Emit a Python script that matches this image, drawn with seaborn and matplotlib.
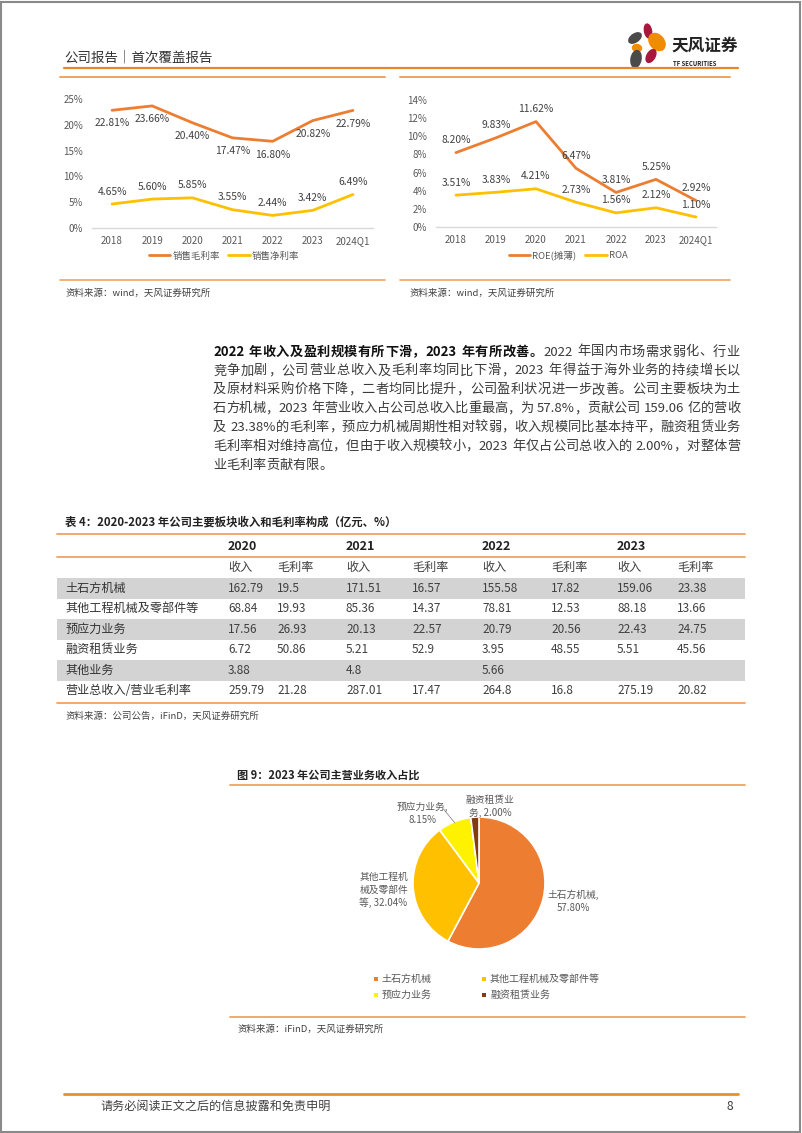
import re
import matplotlib
matplotlib.use("Agg")
import matplotlib.pyplot as plt
import matplotlib.patches as mpatches
from matplotlib.lines import Line2D
import numpy as np
import pandas as pd
import seaborn as sns

W, H = 802, 1133

# chart data
years = ["2018", "2019", "2020", "2021", "2022", "2023", "2024Q1"]
gross_margin = [22.81, 23.66, 20.40, 17.47, 16.80, 20.82, 22.79]
net_margin = [4.65, 5.60, 5.85, 3.55, 2.44, 3.42, 6.49]
roe = [8.20, 9.83, 11.62, 6.47, 3.81, 5.25, 2.92]
roa = [3.51, 3.83, 4.21, 2.73, 1.56, 2.12, 1.10]

# table data
tbl_years = ["2020", "2021", "2022", "2023"]
tbl_rows = ["土石方机械", "其他工程机械及零部件等", "预应力业务", "融资租赁业务", "其他业务", "营业总收入/营业毛利率"]
tbl_income = [["162.79", "171.51", "155.58", "159.06"],
              ["68.84", "85.36", "78.81", "88.18"],
              ["17.56", "20.13", "20.79", "22.43"],
              ["6.72", "5.21", "3.95", "5.51"],
              ["3.88", "4.8", "5.66", ""],
              ["259.79", "287.01", "264.8", "275.19"]]
tbl_margin = [["19.5", "16.57", "17.82", "23.38"],
              ["19.93", "14.37", "12.53", "13.66"],
              ["26.93", "22.57", "20.56", "24.75"],
              ["50.86", "52.9", "48.55", "45.56"],
              ["", "", "", ""],
              ["21.28", "17.47", "16.8", "20.82"]]

# pie data
pie_names = ["土石方机械", "其他工程机械及零部件等", "预应力业务", "融资租赁业务"]
pie_share = [57.80, 32.04, 8.15, 2.00]

ORANGE = "#ED7D31"
GOLD = "#FFC000"
YELLOW = "#FFF200"
BROWN = "#843C0C"
LINE_OR = "#F0A35E"
TXT = "#404040"

sns.set_theme(style="white")
plt.rcParams["font.family"] = ["Noto Sans CJK SC", "DejaVu Sans"]

fig = plt.figure(figsize=(W / 100, H / 100), dpi=100)
renderer = fig.canvas.get_renderer()


def fx(x):
    return x / W


def fy(y):
    return 1 - y / H


def txt(x, y, s, **kw):
    kw.setdefault("va", "center")
    kw.setdefault("color", TXT)
    return fig.text(fx(x), fy(y), s, **kw)


def hline(x0, x1, y, color=LINE_OR, lw=1.2):
    fig.add_artist(Line2D([fx(x0), fx(x1)], [fy(y), fy(y)], color=color, lw=lw,
                          transform=fig.transFigure))


def rect(x0, y0, x1, y1, color):
    fig.add_artist(mpatches.Rectangle((fx(x0), fy(y1)), (x1 - x0) / W, (y1 - y0) / H,
                                      color=color, lw=0, transform=fig.transFigure))


# page border
fig.add_artist(mpatches.Rectangle((0.001, 0.001), 0.997, 0.997, fill=False,
                                  ec="#8a8a8a", lw=1.5, transform=fig.transFigure))

# header
txt(64, 58, "公司报告｜首次覆盖报告", fontsize=9.7, color="#333333", ha="left")
hline(64, 738, 68, color="#E8872A", lw=1.6)
hline(60, 385, 77, lw=1.4)
hline(400, 730, 77, lw=1.4)

# logo
axl = fig.add_axes([fx(625), fy(72), 45 / W, 52 / H])
axl.set_xlim(625, 670)
axl.set_ylim(72, 20)
axl.axis("off")
for cx, cy, w, h, a, c in [(648, 31, 7, 14, -10, "#A8173C"),
                           (635, 38, 8, 14, 55, "#4A4A4A"),
                           (657, 42, 14, 19, -40, "#F08C00"),
                           (637, 48, 9, 7, 10, "#F08C00"),
                           (636, 59, 10, 17, 10, "#4A4A4A"),
                           (651, 56, 8, 14, 30, "#A8173C")]:
    axl.add_patch(mpatches.Ellipse((cx, cy), w, h, angle=a, color=c))
txt(671, 46, "天风证券", fontsize=12, weight="bold", color="#222222", ha="left")
txt(673, 63, "TF SECURITIES", fontsize=4.3, weight="bold", color="#222222", ha="left")


def line_chart(rect_px, s1, s2, names, ymax, ystep, below_first, legend_xy):
    x0, x1, ytop, ybot = rect_px
    ax = fig.add_axes([fx(x0), fy(ybot), (x1 - x0) / W, (ybot - ytop) / H])
    df = pd.DataFrame({"year": years * 2, "value": s1 + s2,
                       "series": [names[0]] * len(years) + [names[1]] * len(years)})
    sns.lineplot(data=df, x="year", y="value", hue="series", palette=[ORANGE, GOLD],
                 linewidth=2, legend=False, sort=False, ax=ax)
    ax.set_xlim(-0.5, len(years) - 0.5)
    ax.set_ylim(0, ymax)
    ax.set_yticks(np.arange(0, ymax + 0.1, ystep))
    ax.set_yticklabels([f"{int(v)}%" for v in np.arange(0, ymax + 0.1, ystep)])
    ax.set_xlabel("")
    ax.set_ylabel("")
    for sp in ["top", "right", "left"]:
        ax.spines[sp].set_visible(False)
    ax.spines["bottom"].set_color("#d9d9d9")
    ax.spines["bottom"].set_linewidth(1)
    ax.tick_params(axis="both", length=0, labelsize=7, colors="#595959")
    ax.tick_params(axis="y", pad=6.5)
    ax.tick_params(axis="x", pad=6)
    for i, v in enumerate(s1):
        off = -9.5 if below_first else 9
        ax.annotate(f"{v:.2f}%", (i, v), xytext=(0, off), textcoords="offset points",
                    ha="center", va="center", fontsize=7.4, color=TXT)
    for i, v in enumerate(s2):
        ax.annotate(f"{v:.2f}%", (i, v), xytext=(0, 9), textcoords="offset points",
                    ha="center", va="center", fontsize=7.4, color=TXT)
    handles = [Line2D([], [], color=ORANGE, lw=2), Line2D([], [], color=GOLD, lw=2)]
    fig.legend(handles, names, loc="center", bbox_to_anchor=(fx(legend_xy[0]), fy(legend_xy[1])),
               ncol=2, frameon=False, fontsize=6.8, handlelength=2.3, handletextpad=0.2,
               columnspacing=0.9, labelcolor="#595959")
    return ax


line_chart((92, 373, 99, 228), gross_margin, net_margin, ["销售毛利率", "销售净利率"],
           25, 5, True, (224, 256))
line_chart((436, 716, 100, 227), roe, roa, ["ROE(摊薄)", "ROA"], 14, 2, False, (568, 255))

hline(60, 385, 280)
hline(400, 730, 280)
txt(65, 293, "资料来源：wind，天风证券研究所", fontsize=6.8, ha="left")
txt(410, 293, "资料来源：wind，天风证券研究所", fontsize=6.8, ha="left")

# paragraph, justified line by line
para = [
    [("2022 年收入及盈利规模有所下滑，2023 年有所改善。", "bold"), ("2022 年国内市场需求弱化、行业", "normal")],
    [("竞争加剧，公司营业总收入及毛利率均同比下滑，2023 年得益于海外业务的持续增长以", "normal")],
    [("及原材料采购价格下降，二者均同比提升，公司盈利状况进一步改善。公司主要板块为土", "normal")],
    [("石方机械，2023 年营业收入占公司总收入比重最高，为 57.8%，贡献公司 159.06 亿的营收", "normal")],
    [("及 23.38%的毛利率，预应力机械周期性相对较弱，收入规模同比基本持平，融资租赁业务", "normal")],
    [("毛利率相对维持高位，但由于收入规模较小，2023 年仅占公司总收入的 2.00%，对整体营", "normal")],
    [("业毛利率贡献有限。", "normal")],
]
PFS = 9.5
for li, segs in enumerate(para):
    y = 352 + li * 18.85
    toks = []
    for s, wgt in segs:
        for t in re.findall(r"[A-Za-z0-9.%/\-]+| |.", s):
            toks.append((t, wgt))
    widths = []
    for t, wgt in toks:
        if t == " ":
            widths.append(PFS * 100 / 72 * 0.3)
        else:
            tmp = fig.text(0, 0, t, fontsize=PFS, weight=wgt)
            widths.append(tmp.get_window_extent(renderer).width)
            tmp.remove()
    gap = 0.0
    if li < len(para) - 1 and len(toks) > 1:
        gap = (740 - 213 - sum(widths)) / (len(toks) - 1)
    x = 213
    for (t, wgt), w in zip(toks, widths):
        if t != " ":
            txt(x, y, t, fontsize=PFS, weight=wgt, ha="left",
                color="#111111" if wgt == "bold" else "#3a3a3a")
        x += w + gap

# table
txt(65, 522, "表 4：2020-2023 年公司主要板块收入和毛利率构成（亿元、%）", fontsize=8.2,
    weight="bold", color="#222222", ha="left")
col_x = [228, 277, 346, 412, 482, 551, 617, 677]
row_y = [588 + i * 20.6 for i in range(len(tbl_rows))]
for i, y in enumerate(row_y):
    if i % 2 == 0:
        rect(57, y - 10.5, 745, y + 10.5, "#d3d3d3")
hline(57, 745, 534, lw=1.3)
hline(57, 745, 557, lw=1.3)
hline(57, 745, 703, lw=1.3)
for j, yr in enumerate(tbl_years):
    txt(col_x[2 * j], 546, yr, fontsize=9, weight="bold", color="#222222", ha="left")
    txt(col_x[2 * j], 567, "收入", fontsize=8.7, ha="left")
    txt(col_x[2 * j + 1], 567, "毛利率", fontsize=8.7, ha="left")
for i, name in enumerate(tbl_rows):
    txt(65, row_y[i], name, fontsize=8.7, ha="left", color="#333333")
    for j in range(len(tbl_years)):
        txt(col_x[2 * j], row_y[i], tbl_income[i][j], fontsize=8.5, ha="left")
        txt(col_x[2 * j + 1], row_y[i], tbl_margin[i][j], fontsize=8.5, ha="left")
txt(65, 716, "资料来源：公司公告，iFinD，天风证券研究所", fontsize=6.8, ha="left")

# pie section
txt(237, 775, "图 9：2023 年公司主营业务收入占比", fontsize=8, weight="bold",
    color="#222222", ha="left")
hline(230, 745, 785, lw=1.3)

axp = fig.add_axes([fx(413), fy(949), 132 / W, 132 / H])
pie_colors = [ORANGE, GOLD, YELLOW, BROWN]
wedges, _ = axp.pie(pie_share, colors=pie_colors, startangle=90, counterclock=False,
                    wedgeprops=dict(edgecolor="white", linewidth=1.2))
axp.set_xlim(-1, 1)
axp.set_ylim(-1, 1)


def pie_label(name, pct):
    parts = [name[k:k + 5] for k in range(0, len(name), 5)]
    if len(parts[-1]) == 5:
        return "\n".join(parts) + ",\n" + f"{pct:.2f}%"
    return "\n".join(parts[:-1] + [parts[-1] + f", {pct:.2f}%"])


lab_r = [1.45, 1.45, 1.36, 1.17]
lab_da = [3, 0, 17, -12]
for k, wdg in enumerate(wedges):
    mid = (wdg.theta1 + wdg.theta2) / 2 + lab_da[k]
    lx, ly = lab_r[k] * np.cos(np.radians(mid)), lab_r[k] * np.sin(np.radians(mid))
    axp.text(lx, ly, pie_label(pie_names[k], pie_share[k]), ha="center", va="center",
             fontsize=7, color="#595959", linespacing=1.35, clip_on=False)
# leader line for the small yellow slice
mid = np.radians((wedges[2].theta1 + wedges[2].theta2) / 2)
axp.plot([0.98 * np.cos(mid), 1.12 * np.cos(mid) - 0.12],
         [0.98 * np.sin(mid), 1.12 * np.sin(mid) + 0.08],
         color="#8c8c8c", lw=0.6, clip_on=False)

# pie legend
for k, name in enumerate(pie_names):
    lx = 376 if k % 2 == 0 else 484
    ly = 979 if k < 2 else 995
    rect(lx - 2, ly - 2, lx + 2, ly + 2, pie_colors[k])
    txt(lx + 6, ly, name, fontsize=7.2, color="#595959", ha="left")

hline(230, 745, 1017, lw=1.3)
txt(237, 1029, "资料来源：iFinD，天风证券研究所", fontsize=6.8, ha="left")

# footer
hline(64, 738, 1094, color="#E8902A", lw=2)
txt(100, 1106, "请务必阅读正文之后的信息披露和免责申明", fontsize=8.7, ha="left")
txt(733, 1106, "8", fontsize=8.7, ha="right")

plt.savefig("out.png", dpi=100)
plt.close()
